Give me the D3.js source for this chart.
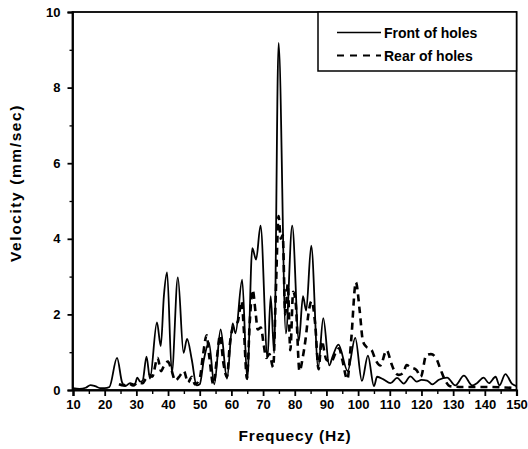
<!DOCTYPE html>
<html>
<head>
<meta charset="utf-8">
<script src="https://cdn.jsdelivr.net/npm/d3@7"></script>
<style>
  html, body { margin: 0; padding: 0; background: #fff; }
  svg { display: block; }
  text { font-family: "Liberation Sans", Arial, sans-serif; font-weight: bold; fill: #000; }
</style>
</head>
<body>
<svg id="chart" width="528" height="449"></svg>
<script>
// ---- data ----
const frontFreq = [10, 12, 14, 15.5, 17, 18.5, 20, 21.5, 23.9, 25.5, 26.5, 28, 29.5, 30.3, 31.2, 32, 33.2, 34.3, 36.5, 37.7, 38.7, 39.7, 41.2, 43.1, 44.9, 46, 47.5, 49, 50, 51.3, 52.9, 54.6, 56.6, 58.6, 60.4, 61.3, 63.4, 65, 66.6, 67.8, 69.2, 71.4, 72.4, 73.5, 74.9, 77.2, 79.2, 81.3, 82.6, 83.6, 85.2, 87.4, 89, 90.9, 92, 93.8, 96.7, 99.1, 101.2, 103.1, 105, 106, 108, 110.2, 112.3, 114.4, 116.5, 118.5, 120, 121.8, 123.4, 125.5, 128.1, 130.7, 133.4, 136, 137.5, 139.6, 141.3, 143.4, 144.6, 146.5, 148.6, 150];
const frontVel  = [0.05, 0.03, 0.06, 0.13, 0.1, 0.05, 0.05, 0.08, 0.85, 0.2, 0.1, 0.18, 0.15, 0.33, 0.22, 0.25, 0.88, 0.3, 1.79, 1.16, 2.5, 3.11, 0.46, 2.98, 0.98, 1.35, 0.8, 0.12, 0.15, 0.8, 1.25, 0.15, 1.6, 0.3, 1.76, 1.5, 2.92, 0.28, 3.75, 3.45, 4.35, 0.85, 2.48, 0.98, 9.18, 1.5, 4.35, 1.3, 2.48, 2.1, 3.82, 0.6, 1.9, 0.65, 0.9, 1.2, 0.5, 1.38, 0.24, 0.91, 0.1, 0.35, 0.28, 0.18, 0.32, 0.17, 0.36, 0.22, 0.27, 0.25, 0.15, 0.27, 0.33, 0.12, 0.38, 0.12, 0.18, 0.33, 0.18, 0.35, 0.12, 0.42, 0.16, 0.1];

const rearFreq = [24.5, 26, 27.5, 29, 30.5, 32, 33, 34.2, 35, 36.7, 37.8, 38.5, 40, 41, 42.3, 43.5, 45, 46.3, 47.5, 48.5, 50, 51, 52.2, 53, 54.3, 55.5, 56.4, 57.5, 58.6, 59.5, 60.7, 62, 63.2, 64, 64.9, 65.8, 66.7, 67.7, 68.3, 69.3, 70.2, 71, 72, 73.2, 74, 74.9, 75.6, 76.2, 77, 77.8, 78.6, 79.5, 80.3, 81.5, 82.5, 83.5, 84.3, 85.3, 86.5, 87.5, 88.5, 90, 91.5, 93, 94, 95, 96.6, 97.8, 99.3, 100.5, 101.5, 102.5, 103.5, 104.3, 105.5, 107, 109, 110.5, 111.3, 112.8, 114.2, 115.3, 116.5, 118.4, 119.8, 121.5, 123, 124.6, 126, 127.5, 129, 133, 140, 150];
const rearVel  = [0.15, 0.12, 0.18, 0.12, 0.2, 0.18, 0.3, 0.4, 0.35, 0.85, 0.5, 0.6, 0.75, 0.55, 0.25, 0.35, 0.5, 0.2, 0.35, 0.15, 0.3, 0.9, 1.45, 0.9, 0.15, 0.9, 1.45, 0.7, 0.35, 1.2, 1.7, 1.8, 2.35, 1.5, 0.3, 1.8, 2.65, 2.0, 1.6, 1.65, 1.2, 0.85, 0.95, 0.6, 2.5, 4.6, 4.0, 4.1, 2.0, 2.8, 1.05, 2.6, 2.3, 0.5, 0.85, 1.4, 2.0, 2.35, 1.7, 0.55, 1.3, 0.8, 0.75, 1.0, 1.1, 0.8, 0.28, 1.3, 2.85, 2.1, 1.3, 1.15, 1.1, 1.05, 0.8, 0.65, 1.05, 0.7, 0.53, 0.4, 0.45, 0.66, 0.6, 0.53, 0.35, 0.92, 0.95, 0.85, 0.55, 0.25, 0.1, 0.08, 0.08, 0.05];

const xTicks = [10, 20, 30, 40, 50, 60, 70, 80, 90, 100, 110, 120, 130, 140, 150];
const xMinorTicks = [15, 25, 35, 45, 55, 65, 75, 85, 95, 105, 115, 125, 135, 145];
const yTicks = [0, 2, 4, 6, 8, 10];
const yMinorTicks = [1, 3, 5, 7, 9];
const seriesNames = ["Front of holes", "Rear of holes"];
const xTitle = "Frequecy (Hz)";
const yTitle = "Velocity (mm/sec)";

// ---- layout ----
const svg = d3.select("#chart");
const pLeft = 72.5, pRight = 516.5, pTop = 12, pBottom = 390;
const x = d3.scaleLinear().domain([10, 150]).range([73, 516.5]);
const y = d3.scaleLinear().domain([0, 10]).range([pBottom, pTop]);

// frame
svg.append("rect").attr("x", pLeft).attr("y", pTop)
  .attr("width", pRight - pLeft).attr("height", pBottom - pTop)
  .attr("fill", "none").attr("stroke", "#000").attr("stroke-width", 1.8);

// x axis
const xAxis = svg.append("g").attr("transform", `translate(0,${pBottom})`)
  .call(d3.axisBottom(x).tickValues(xTicks).tickSize(6).tickPadding(4).tickFormat(d3.format("d")));
xAxis.select(".domain").attr("stroke-width", 2.2);
xAxis.selectAll(".tick line").attr("stroke-width", 1.8);
xAxis.selectAll("text").style("font-size", "13px").style("font-family", "'Liberation Sans', Arial, sans-serif").style("font-weight", "bold");
svg.append("g").attr("transform", `translate(0,${pBottom})`)
  .call(d3.axisBottom(x).tickValues(xMinorTicks).tickSize(4).tickFormat(""))
  .call(g => g.select(".domain").remove())
  .selectAll(".tick line").attr("stroke-width", 1.4);

// y axis
const yAxis = svg.append("g").attr("transform", `translate(${pLeft},0)`)
  .call(d3.axisLeft(y).tickValues(yTicks).tickSize(5).tickPadding(7).tickFormat(d3.format("d")));
yAxis.select(".domain").attr("stroke-width", 1.8);
yAxis.selectAll(".tick line").attr("stroke-width", 1.8);
yAxis.selectAll("text").style("font-size", "13px").style("font-family", "'Liberation Sans', Arial, sans-serif").style("font-weight", "bold");
svg.append("g").attr("transform", `translate(${pLeft},0)`)
  .call(d3.axisLeft(y).tickValues(yMinorTicks).tickSize(3).tickFormat(""))
  .call(g => g.select(".domain").remove())
  .selectAll(".tick line").attr("stroke-width", 1.3);

// lines
const line = d3.line().curve(d3.curveMonotoneX).x(d => x(d[0])).y(d => y(d[1]));
const rearData = rearFreq.map((f, i) => [f, rearVel[i]]);
const frontData = frontFreq.map((f, i) => [f, frontVel[i]]);

svg.append("path").datum(rearData).attr("d", line)
  .attr("fill", "none").attr("stroke", "#000").attr("stroke-width", 2.6)
  .attr("stroke-dasharray", "7,5");
svg.append("path").datum(frontData).attr("d", line)
  .attr("fill", "none").attr("stroke", "#000").attr("stroke-width", 1.8)
  .attr("stroke-linejoin", "round");

// legend
const lg = svg.append("g");
lg.append("rect").attr("x", 318).attr("y", pTop).attr("width", pRight - 318).attr("height", 59)
  .attr("fill", "#fff").attr("stroke", "#000").attr("stroke-width", 1.5);
lg.append("line").attr("x1", 337).attr("x2", 381).attr("y1", 32.5).attr("y2", 32.5)
  .attr("stroke", "#000").attr("stroke-width", 1.5);
lg.append("line").attr("x1", 337).attr("x2", 381).attr("y1", 55.5).attr("y2", 55.5)
  .attr("stroke", "#000").attr("stroke-width", 2).attr("stroke-dasharray", "7,6");
lg.append("text").attr("x", 384).attr("y", 37.5).style("font-size", "14px").text(seriesNames[0]);
lg.append("text").attr("x", 384).attr("y", 60.5).style("font-size", "14px").text(seriesNames[1]);

// titles
svg.append("text").attr("x", 295).attr("y", 441).attr("text-anchor", "middle")
  .style("font-size", "15.5px").style("letter-spacing", "0.8px").text(xTitle);
svg.append("text").attr("transform", "translate(21,183) rotate(-90)").attr("text-anchor", "middle")
  .style("font-size", "15.5px").style("letter-spacing", "1.6px").text(yTitle);
</script>
</body>
</html>
